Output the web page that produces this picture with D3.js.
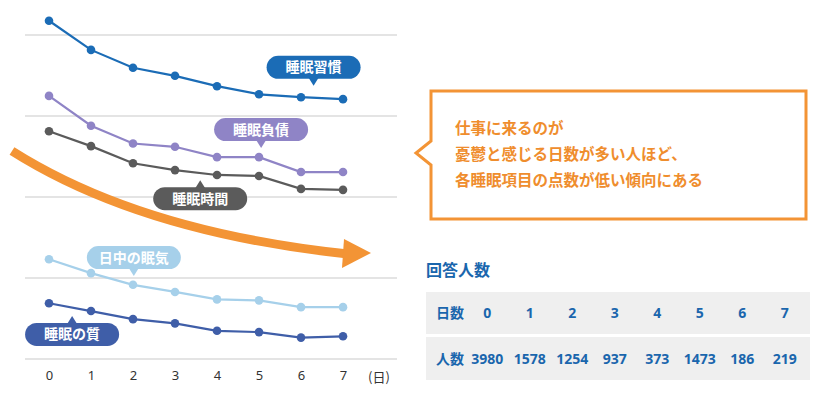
<!DOCTYPE html>
<html>
<head>
<meta charset="utf-8">
<script src="https://cdn.jsdelivr.net/npm/d3@7"></script>
<style>
  html, body { margin: 0; padding: 0; background: #fff; }
  svg { display: block; font-family: "Noto Sans CJK JP", "Noto Sans", sans-serif; }
</style>
</head>
<body>
<div id="chart"></div>
<script>
var days = [0, 1, 2, 3, 4, 5, 6, 7];
var seriesNames = ["睡眠習慣", "睡眠負債", "睡眠時間", "日中の眠気", "睡眠の質"];
var seriesColors = ["#1b6cb6", "#8f84c6", "#5b5b5b", "#a6d0ea", "#3f5ea8"];
var habitValues = [104.4, 95.4, 89.9, 87.4, 84.2, 81.7, 80.8, 80.2];
var debtValues = [81.2, 72.0, 66.5, 65.5, 62.3, 62.3, 57.7, 57.7];
var timeValues = [70.3, 65.7, 60.4, 58.3, 56.8, 56.5, 52.5, 52.2];
var sleepyValues = [30.8, 26.5, 22.9, 20.7, 18.4, 18.1, 16.0, 16.0];
var qualityValues = [17.2, 14.8, 12.3, 11.0, 8.7, 8.3, 6.6, 7.0];
var gridTicks = [0, 25, 50, 75, 100];
var counts = [3980, 1578, 1254, 937, 373, 1473, 186, 219];
// label anchors: day position, value of pointer tip, pointer direction
var labelDays = [6.3, 5.05, 3.6, 2.02, 0.55];
var labelValues = [84.3, 65.1, 55.2, 25.6, 13.3];
var labelDirs = ["down", "down", "up", "down", "up"];

var ORANGE = "#f39435";
var BLUE_TEXT = "#1a66ad";

var W = 825, H = 404;
var svg = d3.select("#chart").append("svg")
  .attr("width", W)
  .attr("height", H);

var x = d3.scaleLinear().domain([0, 7]).range([49, 343]);
var y = d3.scaleLinear().domain([0, 100]).range([359, 35]);

// grid
svg.append("g").selectAll("line")
  .data(gridTicks)
  .enter().append("line")
  .attr("x1", 25).attr("x2", 397)
  .attr("y1", function(d){ return y(d); })
  .attr("y2", function(d){ return y(d); })
  .attr("stroke", "#c9c9c9")
  .attr("stroke-width", 1);

// x axis labels
var xAxis = d3.axisBottom(x).tickValues(days).tickSize(0).tickPadding(0).tickFormat(d3.format("d"));
var ax = svg.append("g").attr("transform", "translate(0,371)").call(xAxis);
ax.select(".domain").remove();
ax.selectAll("text").attr("font-size", 13).attr("fill", "#333").attr("font-family", "Noto Sans, sans-serif");
svg.append("text")
  .attr("x", 379).attr("y", 382)
  .attr("text-anchor", "middle")
  .attr("font-size", 13).attr("fill", "#333")
  .text("(日)");

// orange trend arrow
svg.append("path")
  .attr("d", "M12,151 Q140,232 348,254")
  .attr("fill", "none")
  .attr("stroke", ORANGE)
  .attr("stroke-width", 9);
svg.append("path")
  .attr("d", "M344,239 L371,253 L342,268 Z")
  .attr("fill", ORANGE);

// series lines
var allValues = [habitValues, debtValues, timeValues, sleepyValues, qualityValues];
var line = d3.line()
  .x(function(d, i){ return x(days[i]); })
  .y(function(d){ return y(d); });

allValues.forEach(function(vals, s){
  var g = svg.append("g");
  g.append("path")
    .datum(vals)
    .attr("d", line)
    .attr("fill", "none")
    .attr("stroke", seriesColors[s])
    .attr("stroke-width", 2.2);
  g.selectAll("circle")
    .data(vals)
    .enter().append("circle")
    .attr("cx", function(d, i){ return x(days[i]); })
    .attr("cy", function(d){ return y(d); })
    .attr("r", 4.3)
    .attr("fill", seriesColors[s]);
});

// pill labels
var pillW = 94, pillH = 23, tipH = 7;
seriesNames.forEach(function(name, s){
  var cx = x(labelDays[s]);
  var ty = y(labelValues[s]);
  var top, tri;
  if (labelDirs[s] === "down") {
    top = ty - tipH - pillH;
    tri = [[cx - 5, top + pillH - 1], [cx + 5, top + pillH - 1], [cx, ty]];
  } else {
    top = ty + tipH;
    tri = [[cx - 5, top + 1], [cx + 5, top + 1], [cx, ty]];
  }
  var g = svg.append("g");
  g.append("rect")
    .attr("x", cx - pillW / 2).attr("y", top)
    .attr("width", pillW).attr("height", pillH)
    .attr("rx", 11.5)
    .attr("fill", seriesColors[s]);
  g.append("path")
    .attr("d", "M" + tri.join("L") + "Z")
    .attr("fill", seriesColors[s]);
  g.append("text")
    .attr("x", cx).attr("y", top + pillH / 2 + 5)
    .attr("text-anchor", "middle")
    .attr("font-size", 14)
    .attr("font-weight", "bold")
    .attr("fill", "#fff")
    .text(name);
});

// callout box
var bx0 = 431, bx1 = 806, by0 = 91, by1 = 219;
svg.append("path")
  .attr("d", "M" + bx0 + "," + 141 + " L" + bx0 + "," + by0 + " L" + bx1 + "," + by0 +
    " L" + bx1 + "," + by1 + " L" + bx0 + "," + by1 + " L" + bx0 + "," + 165 +
    " L416,153 Z")
  .attr("fill", "#fff")
  .attr("stroke", ORANGE)
  .attr("stroke-width", 3)
  .attr("stroke-linejoin", "miter");

var calloutLines = ["仕事に来るのが", "憂鬱と感じる日数が多い人ほど、", "各睡眠項目の点数が低い傾向にある"];
svg.append("g").selectAll("text")
  .data(calloutLines)
  .enter().append("text")
  .attr("x", 455)
  .attr("y", function(d, i){ return 134 + i * 26; })
  .attr("font-size", 15.5)
  .attr("font-weight", "bold")
  .attr("fill", "#ef8d2d")
  .text(function(d){ return d; });

// table
svg.append("text")
  .attr("x", 426).attr("y", 276)
  .attr("font-size", 16)
  .attr("font-weight", "bold")
  .attr("fill", BLUE_TEXT)
  .text("回答人数");

var col = d3.scaleBand().domain(days).range([466, 806]);
var rows = [
  {label: "日数", vals: days, y0: 292, y1: 334},
  {label: "人数", vals: counts, y0: 337, y1: 380}
];
rows.forEach(function(r){
  svg.append("rect")
    .attr("x", 426).attr("y", r.y0)
    .attr("width", 384).attr("height", r.y1 - r.y0)
    .attr("fill", "#efefef");
  var cy = (r.y0 + r.y1) / 2 + 5;
  svg.append("text")
    .attr("x", 436).attr("y", cy)
    .attr("font-size", 14).attr("font-weight", "bold")
    .attr("fill", BLUE_TEXT)
    .text(r.label);
  svg.append("g").selectAll("text")
    .data(r.vals)
    .enter().append("text")
    .attr("x", function(d, i){ return col(days[i]) + col.bandwidth() / 2; })
    .attr("y", cy)
    .attr("text-anchor", "middle")
    .attr("font-size", 14).attr("font-weight", "bold")
    .attr("font-family", "Noto Sans, sans-serif")
    .attr("fill", BLUE_TEXT)
    .text(function(d){ return d; });
});
</script>
</body>
</html>
